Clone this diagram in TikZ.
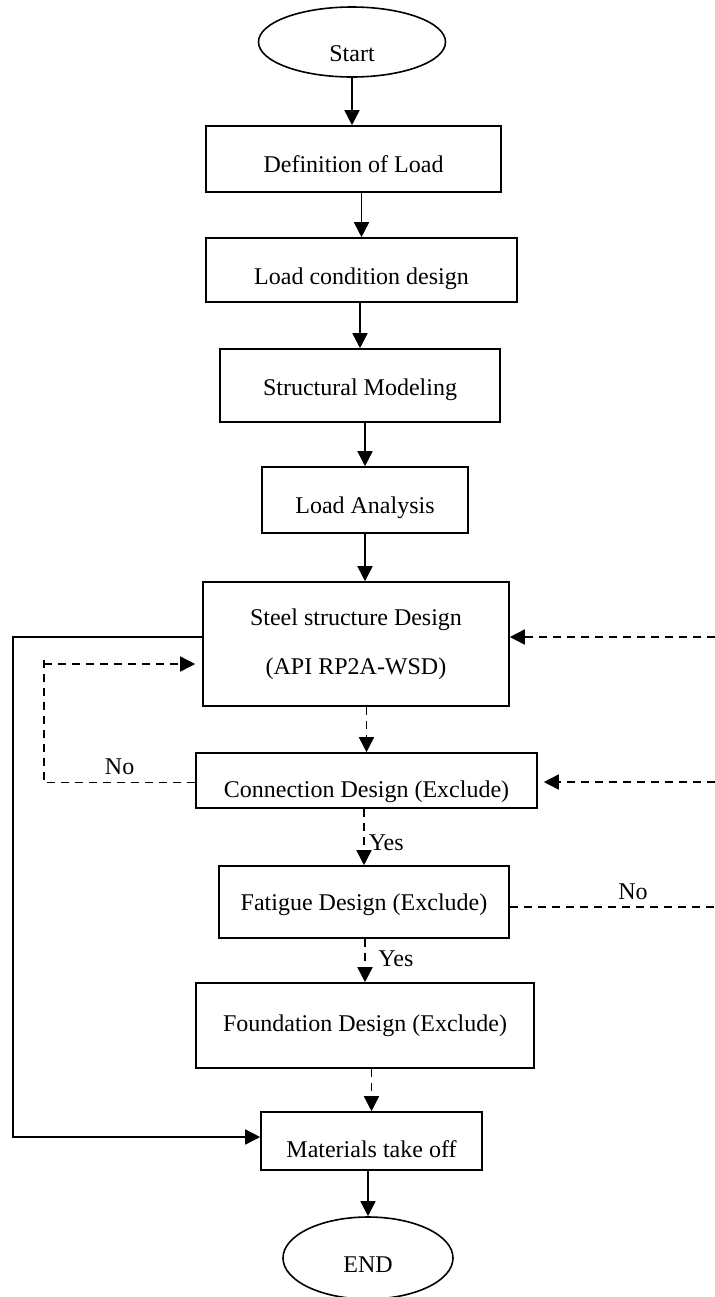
\documentclass[tikz,border=0pt]{standalone}
\usepackage{fontspec}
\setmainfont{Liberation Serif}
\usetikzlibrary{positioning,shapes.geometric,arrows.meta}

\begin{document}
\begin{tikzpicture}[x=0.5pt, y=-0.5pt, font=\fontsize{12}{14}\selectfont,
    boxnode/.style={rectangle, draw, line width=0.8pt, inner sep=2pt, align=center},
    ovalnode/.style={ellipse, draw, line width=0.8pt, inner sep=0pt},
    low/.style={text height=#1, text depth=0pt},
    solidarrow/.style={line width=0.8pt, -{Triangle[length=7.5pt,width=7.5pt]}},
    dasharrow/.style={solidarrow, dash pattern=on 4pt off 3pt},
    dashline/.style={line width=0.8pt, dash pattern=on 4pt off 3pt},]
    \useasboundingbox (0,0) rectangle (715,1297);
    %Nodes
    \node[ovalnode, low=19pt, minimum width=93.5pt, minimum height=35pt] (start) at (352,42) {Start};
    \node[boxnode, low=13pt, minimum width=147.5pt, minimum height=33pt] (def) at (353.5,159) {Definition of Load};
    \node[boxnode, low=14pt, minimum width=155.5pt, minimum height=32pt] (cond) at (361.5,270) {Load condition design};
    \node[boxnode, low=9.5pt, minimum width=140pt, minimum height=36.5pt] (model) at (360,385.5) {Structural Modeling};
    \node[boxnode, low=13pt, minimum width=103pt, minimum height=33pt] (anal) at (365,500) {Load Analysis};
    \node[boxnode, minimum width=153pt, minimum height=62pt] (steel) at (356,644) {Steel structure Design\\[10.5pt](API RP2A-WSD)};
    \node[boxnode, low=16.5pt, minimum width=170.5pt, minimum height=27.5pt] (conn) at (366.5,780.5) {Connection Design (Exclude)};
    \node[boxnode, low=8pt, minimum width=145pt, minimum height=36pt] (fat) at (364,902) {Fatigue Design (Exclude)};
    \node[boxnode, minimum width=169pt, minimum height=42.5pt] (found) at (365,1025.5) {Foundation Design (Exclude)};
    \node[boxnode, low=16pt, minimum width=110.5pt, minimum height=29pt] (mat) at (371.5,1141) {Materials take off};
    \node[ovalnode, low=14pt, minimum width=85pt, minimum height=41pt] (end) at (368,1258) {END};

    \coordinate (leftrail) at (13,0);
    \coordinate (noloop) at (44,655);
    \coordinate (steelin) at (715,637);
    \coordinate (connin) at (715,782);
    \coordinate (fatout) at (715,907);

    %Lines
    \draw[solidarrow] (start.south) -- (start.south |- def.north);
    \draw[solidarrow] (def.south -| cond.north) -- (cond.north);
    \draw[solidarrow] (cond.south -| model.north) -- (model.north);
    \draw[solidarrow] (model.south -| anal.north) -- (anal.north);
    \draw[solidarrow] (anal.south) -- (anal.south |- steel.north);
    \draw[dasharrow] (steel.south -| conn.north) -- (conn.north);
    \draw[dasharrow] (conn.south -| fat.north) -- node[right, pos=0.6, inner sep=2pt] {Yes} (fat.north);
    \draw[dasharrow] (fat.south -| found.north) -- node[right, pos=0.45, xshift=3pt] {Yes} (found.north);
    \draw[dasharrow] (found.south -| mat.north) -- (mat.north);
    \draw[solidarrow] (mat.south -| end.north) -- (end.north);

    % %Loops
    \draw[solidarrow] ([yshift=3.5pt]steel.west) -- ([yshift=3.5pt]steel.west -| leftrail) |- ([yshift=2pt]mat.west);
    \draw[dashline] ([yshift=-1pt]conn.west) -- node[above] {No} ([yshift=-1pt]conn.west -| noloop) -- (noloop);
    \draw[dasharrow, shorten >=3.5pt] ([yshift=-10pt]steel.west -| noloop) -- ([yshift=-10pt]steel.west);
    \draw[dasharrow] (steelin) -- (steelin -| steel.east);
    \draw[dasharrow, shorten >=3pt] (connin) -- (connin -| conn.east);
    \draw[dashline] (fat.east |- fatout) -- node[above, pos=0.6] {No} (fatout);
\end{tikzpicture}
\end{document}
